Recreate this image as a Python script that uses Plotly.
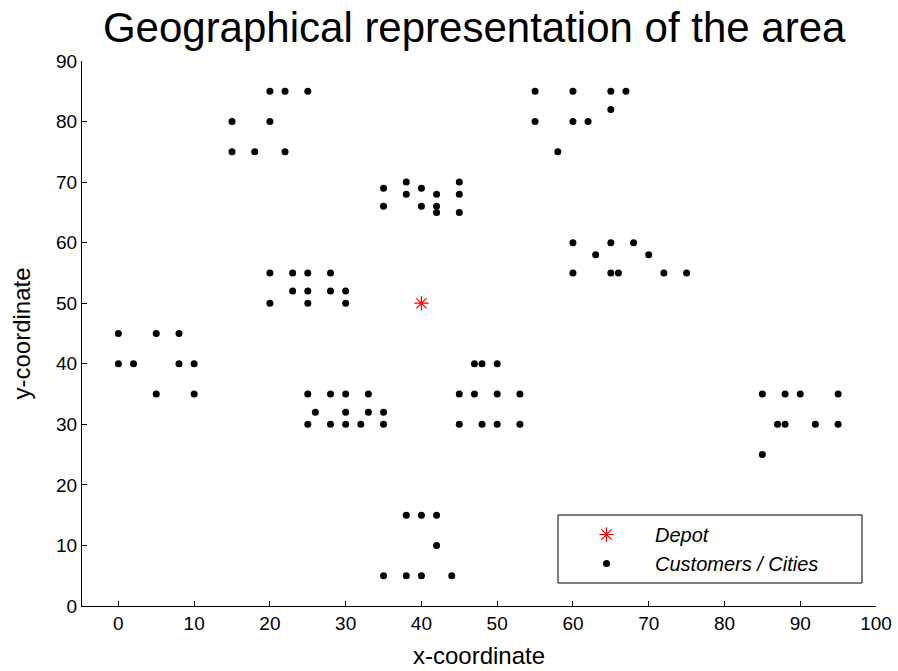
import plotly.graph_objects as go

depot_x = [40]
depot_y = [50]

cust_x = [45, 45, 42, 42, 42, 40, 40, 38, 38, 35, 35, 25, 22, 22, 20, 20, 18, 15, 15,
          30, 30, 28, 28, 25, 25, 25, 23, 23, 20, 20, 10, 10, 8, 8, 5, 5, 2, 0, 0,
          35, 35, 33, 33, 32, 30, 30, 30, 28, 28, 26, 25, 25, 44, 42, 42, 40, 40, 38, 38, 35,
          50, 50, 50, 48, 48, 47, 47, 45, 45, 95, 95, 53, 92, 53, 45, 90, 88, 88, 87, 85, 85,
          75, 72, 70, 68, 66, 65, 65, 63, 60, 60, 67, 65, 65, 62, 60, 60, 58, 55, 55]
cust_y = [68, 70, 66, 68, 65, 69, 66, 68, 70, 66, 69, 85, 75, 85, 80, 85, 75, 75, 80,
          50, 52, 52, 55, 50, 52, 55, 52, 55, 50, 55, 35, 40, 40, 45, 35, 45, 40, 40, 45,
          30, 32, 32, 35, 30, 30, 32, 35, 30, 35, 32, 30, 35, 5, 10, 15, 5, 15, 5, 15, 5,
          30, 35, 40, 30, 40, 35, 40, 30, 35, 30, 35, 30, 30, 35, 65, 35, 30, 35, 30, 25, 35,
          55, 55, 58, 60, 55, 55, 60, 58, 55, 60, 85, 85, 82, 80, 80, 85, 75, 80, 85]

x_ticks = [0, 10, 20, 30, 40, 50, 60, 70, 80, 90, 100]
y_ticks = [0, 10, 20, 30, 40, 50, 60, 70, 80, 90]

fig = go.Figure()
fig.add_trace(go.Scatter(
    x=depot_x, y=depot_y, mode="markers", name="Depot",
    marker=dict(symbol="asterisk-open", size=12, color="red",
                line=dict(color="red", width=1.2)),
))
fig.add_trace(go.Scatter(
    x=cust_x, y=cust_y, mode="markers", name="Customers / Cities",
    marker=dict(symbol="circle", size=7, color="black"),
))

# legend frame (drawn as a shape so it can be as wide as the original)
fig.add_shape(type="rect", xref="paper", yref="paper",
              x0=0.5995, x1=0.9824, y0=0.0422, y1=0.167,
              line=dict(color="black", width=1), fillcolor="white", layer="above")

font = "Liberation Sans, Arial, sans-serif"
fig.update_layout(
    width=898, height=671,
    margin=dict(l=82, r=22, t=61, b=65),
    paper_bgcolor="white", plot_bgcolor="white",
    font=dict(family=font, color="black", size=19),
    title=dict(text="Geographical representation of the area", x=0.528, xanchor="center",
               y=0.960, yanchor="middle",
               font=dict(size=42, family=font, color="black")),
    showlegend=True,
    legend=dict(x=0.5995, y=0.167, xanchor="left", yanchor="top",
                borderwidth=0, bgcolor="rgba(0,0,0,0)",
                font=dict(size=20, family=font, style="italic"),
                itemwidth=87, tracegroupgap=2),
    xaxis=dict(range=[-4.8, 100], tickmode="array", tickvals=x_ticks,
               ticks="inside", ticklen=5, tickcolor="black",
               showline=True, linecolor="black", linewidth=1, mirror=False,
               showgrid=False, zeroline=False, automargin=False,
               title=dict(text="x-coordinate", font=dict(size=24), standoff=14),
               tickfont=dict(size=19)),
    yaxis=dict(range=[0, 90], tickmode="array", tickvals=y_ticks,
               ticks="inside", ticklen=5, tickcolor="black",
               showline=True, linecolor="black", linewidth=1, mirror=False,
               showgrid=False, zeroline=False, automargin=False,
               title=dict(text="y-coordinate", font=dict(size=24), standoff=18),
               tickfont=dict(size=19)),
)

fig.write_html("out.html")
